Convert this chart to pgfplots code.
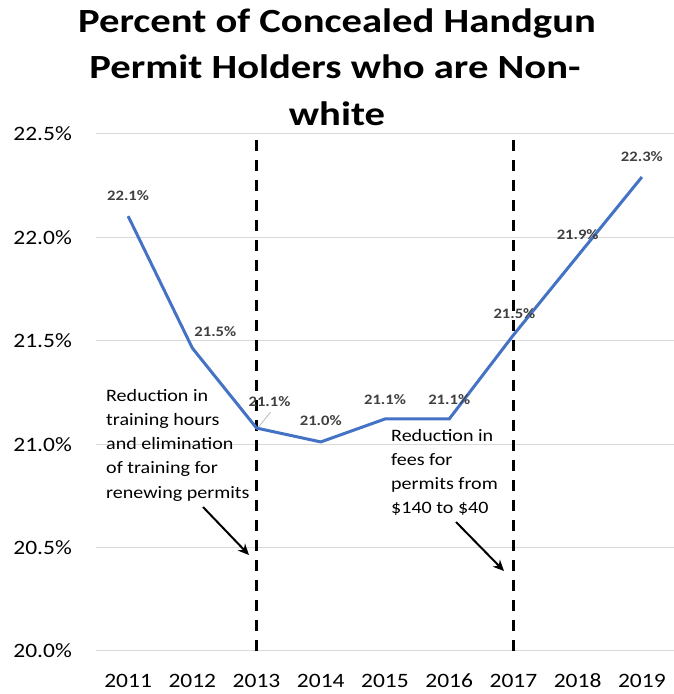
\documentclass[border=0pt]{standalone}
\usepackage{pgfplots}
\pgfplotsset{compat=1.18}
\usepackage{pgfplotstable}
\usepackage{fontspec}
\setmainfont{Carlito}[FakeStretch=1.15]
\newfontfamily\titlefont{Carlito}[FakeStretch=1.2]
\usetikzlibrary{arrows.meta}

\definecolor{lineblue}{HTML}{4472C4}
\definecolor{labelgray}{HTML}{404040}
\definecolor{gridgray}{HTML}{D9D9D9}

% share of permit holders who are non-white, label offsets in bp
\pgfplotstableread{
year pct    lbl  dx dy
2011 22.103 22.1 0  21
2012 21.465 21.5 23 16.5
2013 21.078 21.1 13 26.5
2014 21.011 21.0 0  21.5
2015 21.122 21.1 0  19.5
2016 21.122 21.1 0  19.5
2017 21.528 21.5 1  21
2018 21.910 21.9 0  21
2019 22.292 22.3 0  20
}\permits

\begin{document}
\begin{tikzpicture}
\useasboundingbox (0,0) rectangle (674bp,694bp);

\begin{axis}[
    at={(96bp,43bp)}, anchor=south west,
    scale only axis,
    width=578bp, height=517bp,
    xmin=2010.5, xmax=2019.5,
    ymin=20, ymax=22.5,
    xtick={2011,...,2019},
    ytick={20,20.5,...,22.5},
    axis line style={draw=none},
    major tick length=0pt,
    ymajorgrids,
    grid style={gridgray, line width=1bp},
    /pgf/number format/assume math mode=true,
    xticklabel={\pgfmathprintnumber[1000 sep={}]{\tick}},
    yticklabel={\pgfmathprintnumber[fixed,fixed zerofill,precision=1]{\tick}\%},
    xticklabel style={font=\fontsize{20.5}{24}\selectfont, anchor=base, inner sep=0pt, yshift=-37bp},
    yticklabel style={font=\fontsize{20.5}{24}\selectfont, anchor=east, inner sep=0pt, xshift=-24bp},
    clip=false,
]

% policy changes
\addplot[black, line width=3bp, dash pattern=on 11bp off 9bp] coordinates {(2013,20) (2013,22.48)};
\addplot[black, line width=3bp, dash pattern=on 11bp off 9bp] coordinates {(2017,20) (2017,22.48)};

\addplot[lineblue, line width=3bp, mark=none,
    point meta=explicit symbolic,
    nodes near coords={\pgfplotspointmeta\%},
    visualization depends on={\thisrow{dx}\as\ldx},
    visualization depends on={\thisrow{dy}\as\ldy},
    every node near coord/.append style={font=\bfseries\fontsize{14.5}{17}\selectfont,
        text=labelgray, anchor=center, inner sep=0pt,
        xshift=\ldx*1bp, yshift=\ldy*1bp},
] table[x=year, y=pct, meta=lbl] {\permits};

% leader line of the 2013 label
\draw[gray!55, line width=0.8bp] (axis cs:2013,21.078) ++(2bp,1bp) -- ++(12bp,15bp);
\end{axis}

% title
\begin{scope}[every node/.style={font=\titlefont\bfseries\fontsize{34}{40}\selectfont, anchor=base, inner sep=0pt}]
\node at (337bp,661bp) {Percent of Concealed Handgun};
\node at (335bp,615bp) {Permit Holders who are Non-};
\node at (337bp,568bp) {white};
\end{scope}

% annotations
\node[anchor=north west, inner sep=0pt, align=left, font=\fontsize{17.5}{24.3}\selectfont]
    at (106bp,305bp) {Reduction in\\training hours\\and elimination\\of training for\\renewing permits};
\draw[-{Stealth[length=11bp,width=10bp]}, line width=2bp] (203bp,187bp) -- (249bp,139bp);

\node[anchor=north west, inner sep=0pt, align=left, font=\fontsize{17.5}{24.3}\selectfont]
    at (391bp,265bp) {Reduction in\\fees for\\permits from\\\$140 to \$40};
\draw[-{Stealth[length=11bp,width=10bp]}, line width=2bp] (456bp,172bp) -- (504bp,123bp);
\end{tikzpicture}
\end{document}
